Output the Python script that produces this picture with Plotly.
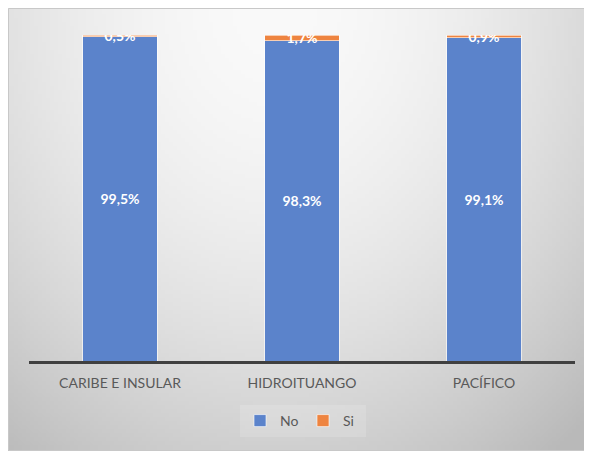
import base64, struct, zlib, math
import plotly.graph_objects as go

categories = ["CARIBE E INSULAR", "HIDROITUANGO", "PACÍFICO"]
no_values = [99.5, 98.3, 99.1]
si_values = [0.5, 1.7, 0.9]
series_names = ["No", "Si"]

# figure is placed at page offset (8, 8) by the page body margin
OFF = 8
W, H = 582, 443
ML, MR, MT, MB = 21, 15, 27, 90
PW, PH = W - ML - MR, H - MT - MB

def make_png(w, h, fn):
    raw = b""
    for j in range(h):
        row = b"\x00"
        for i in range(w):
            row += bytes(fn(i, j))
        raw += row
    def chunk(t, d):
        c = struct.pack(">I", len(d)) + t + d
        return c + struct.pack(">I", zlib.crc32(t + d) & 0xffffffff)
    png = b"\x89PNG\r\n\x1a\n" + chunk(b"IHDR", struct.pack(">IIBBBBB", w, h, 8, 2, 0, 0, 0))
    png += chunk(b"IDAT", zlib.compress(raw, 9)) + chunk(b"IEND", b"")
    return "data:image/png;base64," + base64.b64encode(png).decode()

gw, gh = 146, 111
def grad(i, j):
    px = OFF + (i + 0.5) * W / gw
    py = OFF + (j + 0.5) * H / gh
    dx, dy = (px - 275) / 330.0, (py - 6) / 400.0
    r = math.sqrt(dx * dx + dy * dy)
    c = int(max(185, min(250, 250 - 35 * r ** 1.8)))
    return (c, c, c)

img = make_png(gw, gh, grad)

def fx(px):
    return (px - OFF - ML) / PW
def fy(py):
    return (H - MB - (py - OFF)) / PH

label_font = dict(color="white", size=14, family="Lato", weight="bold")

fig = go.Figure()
fig.add_trace(go.Bar(
    x=categories, y=no_values, name=series_names[0],
    marker=dict(color="#5B83CB", line=dict(color="rgba(255,255,255,0.6)", width=1)),
    texttemplate="%{y:.1f}%", textposition="inside", insidetextanchor="middle",
    textangle=0, textfont=label_font,
))
fig.add_trace(go.Bar(
    x=categories, y=si_values, name=series_names[1],
    marker=dict(color="#EE8440", line=dict(color="rgba(255,255,255,0.6)", width=1)),
    texttemplate="%{y:.1f}%", textposition="inside", insidetextanchor="middle",
    textangle=0, textfont=label_font, constraintext="none",
))

fig.update_layout(
    width=W, height=H, barmode="stack", bargap=0.59,
    separators=",.",
    margin=dict(l=ML, r=MR, t=MT, b=MB),
    paper_bgcolor="white", plot_bgcolor="rgba(0,0,0,0)",
    font=dict(family="Lato", color="#595959", size=14),
    uniformtext=dict(mode="show", minsize=14),
    xaxis=dict(showline=True, linecolor="#404040", linewidth=3, showgrid=False,
               ticks="", ticklabelstandoff=7, tickfont=dict(size=14, color="#595959")),
    yaxis=dict(range=[0, 100], visible=False, showgrid=False),
    showlegend=True,
    legend=dict(orientation="h", x=fx(303), xanchor="center", y=fy(421), yanchor="middle",
                bgcolor="rgba(255,255,255,0.15)", font=dict(size=14, color="#595959"),
                itemwidth=30, entrywidth=18, traceorder="normal"),
    images=[dict(source=img, xref="paper", yref="paper", x=fx(OFF), y=fy(OFF),
                 sizex=fx(OFF + W) - fx(OFF), sizey=fy(OFF) - fy(OFF + H),
                 sizing="stretch", layer="below", xanchor="left", yanchor="top")],
    shapes=[dict(type="rect", xref="paper", yref="paper", x0=fx(OFF + 0.5), x1=fx(OFF + W - 0.5),
                 y0=fy(OFF + H - 0.5), y1=fy(OFF + 0.5), line=dict(color="#C8C8C8", width=1),
                 layer="below")],
)
fig.write_html("out.html")
